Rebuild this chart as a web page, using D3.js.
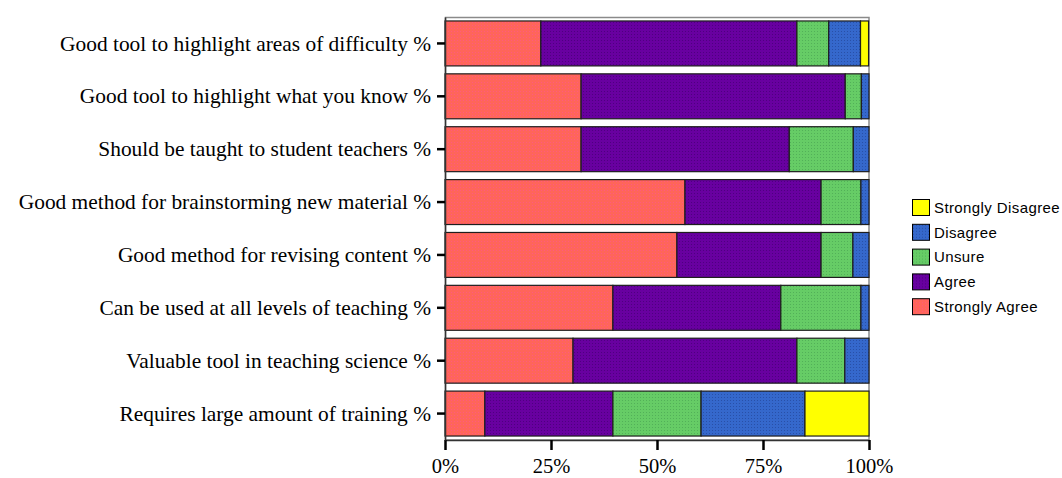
<!DOCTYPE html>
<html>
<head>
<meta charset="utf-8">
<script src="https://cdn.jsdelivr.net/npm/d3@7"></script>
<style>
  html, body { margin: 0; padding: 0; background: #fff; }
  svg { display: block; }
</style>
</head>
<body>
<svg id="chart" width="1062" height="478"></svg>
<script>
// Survey statements, listed top to bottom
const categories = [
  "Good tool to highlight areas of difficulty %",
  "Good tool to highlight what you know %",
  "Should be taught to student teachers %",
  "Good method for brainstorming new material %",
  "Good method for revising content %",
  "Can be used at all levels of teaching %",
  "Valuable tool in teaching science %",
  "Requires large amount of training %"
];

// Response shares (percent of respondents) per statement
const stronglyAgree    = [22.6, 32.1, 32.1, 56.6, 54.7, 39.6, 30.2, 9.4];
const agree            = [60.4, 62.3, 49.1, 32.1, 34.0, 39.6, 52.8, 30.2];
const unsure           = [7.5, 3.8, 15.1, 9.4, 7.5, 18.9, 11.3, 20.8];
const disagree         = [7.5, 1.9, 3.8, 1.9, 3.8, 1.9, 5.7, 24.5];
const stronglyDisagree = [1.9, 0, 0, 0, 0, 0, 0, 15.1];

const seriesNames = ["Strongly Agree", "Agree", "Unsure", "Disagree", "Strongly Disagree"];
const tickValues = [0, 25, 50, 75, 100];
const tickLabels = ["0%", "25%", "50%", "75%", "100%"];

// Fill styling: base colour plus a fine dot texture
const swatches = {
  "Strongly Agree":    { base: "#ff655a", dot: "#ff5a80" },
  "Agree":             { base: "#6800a0", dot: "#4e0080" },
  "Unsure":            { base: "#66cc66", dot: "#52b058" },
  "Disagree":          { base: "#3568cc", dot: "#2850a8" },
  "Strongly Disagree": { base: "#ffff00", dot: null }
};

const rows = categories.map((c, i) => ({
  category: c,
  "Strongly Agree": stronglyAgree[i],
  "Agree": agree[i],
  "Unsure": unsure[i],
  "Disagree": disagree[i],
  "Strongly Disagree": stronglyDisagree[i]
}));

const svg = d3.select("#chart");
const plot = { left: 445, top: 17, right: 869, bottom: 440 };

// Dot-texture patterns
const defs = svg.append("defs");
seriesNames.forEach((name, k) => {
  const s = swatches[name];
  const p = defs.append("pattern")
    .attr("id", "fill" + k)
    .attr("patternUnits", "userSpaceOnUse")
    .attr("width", 3).attr("height", 3);
  p.append("rect").attr("width", 3).attr("height", 3).attr("fill", s.base);
  if (s.dot) {
    p.append("rect").attr("x", 1).attr("y", 1).attr("width", 1).attr("height", 1).attr("fill", s.dot);
  }
});

const x = d3.scaleLinear().domain([0, 100]).range([plot.left, plot.right]);
const y = d3.scaleBand().domain(categories)
  .range([plot.top, plot.bottom])
  .paddingInner(0.15).paddingOuter(0.075);

const stack = d3.stack().keys(seriesNames);
const series = stack(rows);

// Plot frame
svg.append("rect")
  .attr("x", plot.left + 0.5).attr("y", plot.top + 0.5)
  .attr("width", plot.right - plot.left - 0.5)
  .attr("height", plot.bottom - plot.top - 0.5)
  .attr("fill", "#fff")
  .attr("stroke", "#8a8a8a")
  .attr("stroke-width", 1.5);

// Stacked bars
svg.append("g").selectAll("g")
  .data(series)
  .join("g")
  .attr("fill", (d, k) => `url(#fill${k})`)
  .selectAll("rect")
  .data(d => d.filter(v => v[1] - v[0] > 0))
  .join("rect")
  .attr("x", d => x(d[0]))
  .attr("y", d => y(d.data.category))
  .attr("width", d => Math.min(x(d[1]), plot.right) - x(d[0]))
  .attr("height", y.bandwidth())
  .attr("stroke", "#1e1e1e")
  .attr("stroke-width", 1.2);

// Bottom axis
const xAxis = svg.append("g")
  .attr("transform", `translate(0,${plot.bottom})`)
  .call(d3.axisBottom(x).tickValues(tickValues)
    .tickFormat((d, i) => tickLabels[i])
    .tickSize(10).tickSizeOuter(0).tickPadding(8.5));
xAxis.select(".domain").attr("stroke", "#333").attr("stroke-width", 1.5);
xAxis.selectAll(".tick line").attr("stroke", "#000").attr("stroke-width", 2.5);
xAxis.selectAll(".tick text")
  .attr("font-family", "'Liberation Serif', 'Times New Roman', serif")
  .attr("font-size", 20.5)
  .attr("fill", "#000");

// Left axis with statement labels
const yAxis = svg.append("g")
  .attr("transform", `translate(${plot.left},0)`)
  .call(d3.axisLeft(y).tickSize(8).tickSizeOuter(0).tickPadding(6));
yAxis.select(".domain").attr("stroke", "#333").attr("stroke-width", 1.5);
yAxis.selectAll(".tick line").attr("stroke", "#000").attr("stroke-width", 2.5);
yAxis.selectAll(".tick text")
  .attr("font-family", "'Liberation Serif', 'Times New Roman', serif")
  .attr("font-size", 21.4)
  .attr("dy", "0.33em")
  .attr("fill", "#000");

// Legend (reverse stacking order)
const legendItems = seriesNames.slice().reverse();
const legend = svg.append("g").attr("transform", "translate(912,199)");
const item = legend.selectAll("g")
  .data(legendItems)
  .join("g")
  .attr("transform", (d, i) => `translate(0,${i * 24.8})`);
item.append("rect")
  .attr("x", 0.5).attr("y", 0.5)
  .attr("width", 17).attr("height", 16)
  .attr("fill", d => `url(#fill${seriesNames.indexOf(d)})`)
  .attr("stroke", "#000")
  .attr("stroke-width", 1);
item.append("text")
  .attr("x", 22).attr("y", 8.5)
  .attr("dy", "0.35em")
  .attr("font-family", "'Liberation Sans', Arial, sans-serif")
  .attr("font-size", 15)
  .attr("letter-spacing", "0.4px")
  .attr("fill", "#000")
  .text(d => d);
</script>
</body>
</html>
